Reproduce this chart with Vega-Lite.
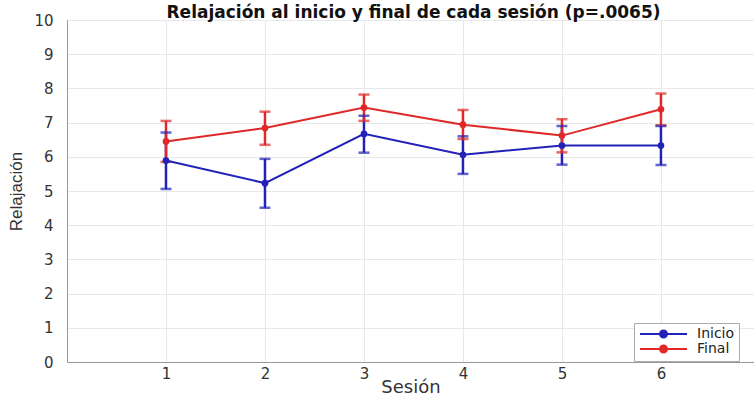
{
  "$schema": "https://vega.github.io/schema/vega-lite/v6.json",
  "width": 687,
  "height": 342,
  "autosize": {"type": "none"},
  "padding": {"left": 67, "top": 20, "right": 0, "bottom": 36},
  "background": "white",
  "title": {
    "text": "Relajación al inicio y final de cada sesión (p=.0065)",
    "font": "DejaVu Sans",
    "fontSize": 17,
    "fontWeight": "bold",
    "color": "#111111",
    "anchor": "middle",
    "offset": -9,
    "dx": 3
  },
  "config": {
    "view": {"stroke": "#999999", "strokeWidth": 1},
    "axis": {
      "labelFont": "DejaVu Sans",
      "labelFontSize": 15,
      "labelColor": "#333333",
      "titleFont": "DejaVu Sans",
      "titleColor": "#333333",
      "titleFontWeight": "normal",
      "domainColor": "#999999",
      "gridColor": "#e8e8e8",
      "grid": true,
      "ticks": false
    }
  },
  "data": {
    "values": [
      {"sesion": 1, "serie": "Inicio", "media": 5.89, "lo": 5.06, "hi": 6.71},
      {"sesion": 2, "serie": "Inicio", "media": 5.23, "lo": 4.51, "hi": 5.94},
      {"sesion": 3, "serie": "Inicio", "media": 6.67, "lo": 6.12, "hi": 7.2},
      {"sesion": 4, "serie": "Inicio", "media": 6.06, "lo": 5.5, "hi": 6.6},
      {"sesion": 5, "serie": "Inicio", "media": 6.33, "lo": 5.77, "hi": 6.9},
      {"sesion": 6, "serie": "Inicio", "media": 6.33, "lo": 5.76, "hi": 6.9},
      {"sesion": 1, "serie": "Final", "media": 6.45, "lo": 5.85, "hi": 7.05},
      {"sesion": 2, "serie": "Final", "media": 6.84, "lo": 6.35, "hi": 7.32},
      {"sesion": 3, "serie": "Final", "media": 7.44, "lo": 7.05, "hi": 7.82},
      {"sesion": 4, "serie": "Final", "media": 6.94, "lo": 6.52, "hi": 7.37},
      {"sesion": 5, "serie": "Final", "media": 6.62, "lo": 6.13, "hi": 7.1},
      {"sesion": 6, "serie": "Final", "media": 7.39, "lo": 6.92, "hi": 7.85}
    ]
  },
  "encoding": {
    "x": {
      "field": "sesion",
      "type": "quantitative",
      "scale": {"domain": [0, 6.94], "nice": false, "zero": false},
      "axis": {
        "values": [1, 2, 3, 4, 5, 6],
        "title": "Sesión",
        "titleFontSize": 18,
        "titlePadding": -3,
        "labelPadding": 4,
        "format": "d"
      }
    },
    "color": {
      "field": "serie",
      "type": "nominal",
      "scale": {"domain": ["Inicio", "Final"], "range": ["#2222b8", "#e02828"]},
      "legend": {
        "title": null,
        "orient": "none",
        "legendX": 567,
        "legendY": 303,
        "direction": "vertical",
        "symbolType": "M-1,0H8.4M4.4,0A0.7,0.7,0,1,1,3,0A0.7,0.7,0,1,1,4.4,0Z",
        "symbolSize": 100,
        "symbolStrokeWidth": 2,
        "symbolOpacity": 1,
        "labelFont": "DejaVu Sans",
        "labelFontSize": 14,
        "labelColor": "#222222",
        "labelOffset": 45,
        "rowPadding": -2,
        "padding": 4,
        "strokeColor": "#aaaaaa",
        "fillColor": "white"
      }
    }
  },
  "layer": [
    {
      "mark": {"type": "rule", "strokeWidth": 2.5},
      "encoding": {
        "y": {
          "field": "lo",
          "type": "quantitative",
          "scale": {"domain": [0, 10], "nice": false},
          "axis": {
            "values": [0, 1, 2, 3, 4, 5, 6, 7, 8, 9, 10],
            "title": "Relajación",
            "titleFont": "Liberation Sans",
            "titleFontSize": 17,
            "titlePadding": 8,
            "labelPadding": 14
          }
        },
        "y2": {"field": "hi"}
      }
    },
    {
      "mark": {"type": "tick", "orient": "horizontal", "size": 11, "thickness": 2.5},
      "encoding": {
        "y": {
          "field": "lo",
          "type": "quantitative",
          "scale": {"domain": [0, 10], "nice": false},
          "axis": {
            "values": [0, 1, 2, 3, 4, 5, 6, 7, 8, 9, 10],
            "title": "Relajación",
            "titleFont": "Liberation Sans",
            "titleFontSize": 17,
            "titlePadding": 8,
            "labelPadding": 14
          }
        }
      }
    },
    {
      "mark": {"type": "tick", "orient": "horizontal", "size": 11, "thickness": 2.5},
      "encoding": {
        "y": {
          "field": "hi",
          "type": "quantitative",
          "scale": {"domain": [0, 10], "nice": false},
          "axis": {
            "values": [0, 1, 2, 3, 4, 5, 6, 7, 8, 9, 10],
            "title": "Relajación",
            "titleFont": "Liberation Sans",
            "titleFontSize": 17,
            "titlePadding": 8,
            "labelPadding": 14
          }
        }
      }
    },
    {
      "mark": {"type": "line", "strokeWidth": 2},
      "encoding": {
        "y": {
          "field": "media",
          "type": "quantitative",
          "scale": {"domain": [0, 10], "nice": false},
          "axis": {
            "values": [0, 1, 2, 3, 4, 5, 6, 7, 8, 9, 10],
            "title": "Relajación",
            "titleFont": "Liberation Sans",
            "titleFontSize": 17,
            "titlePadding": 8,
            "labelPadding": 14
          }
        }
      }
    },
    {
      "mark": {"type": "point", "filled": true, "opacity": 1, "size": 45, "shape": "circle"},
      "encoding": {
        "y": {
          "field": "media",
          "type": "quantitative",
          "scale": {"domain": [0, 10], "nice": false},
          "axis": {
            "values": [0, 1, 2, 3, 4, 5, 6, 7, 8, 9, 10],
            "title": "Relajación",
            "titleFont": "Liberation Sans",
            "titleFontSize": 17,
            "titlePadding": 8,
            "labelPadding": 14
          }
        }
      }
    }
  ]
}
